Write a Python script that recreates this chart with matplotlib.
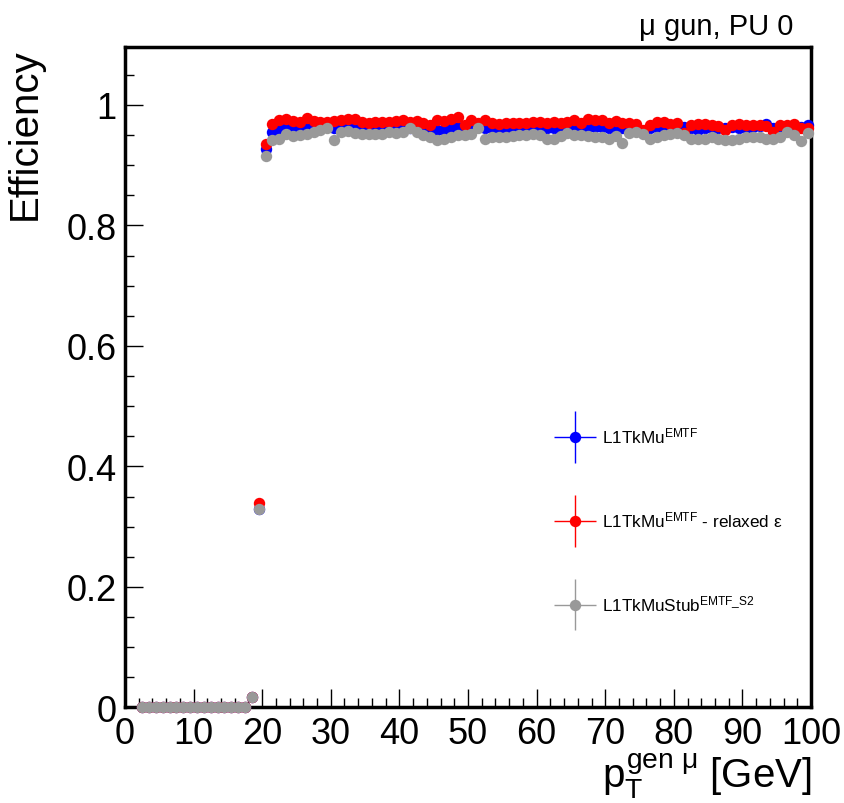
import numpy as np
import matplotlib
matplotlib.use("Agg")
import matplotlib.pyplot as plt
from matplotlib.container import ErrorbarContainer
from matplotlib.legend_handler import HandlerErrorbar
from matplotlib.ticker import MultipleLocator

plt.rcParams["font.family"] = ["Liberation Sans", "DejaVu Sans"]
plt.rcParams["mathtext.fontset"] = "custom"
plt.rcParams["mathtext.rm"] = "Liberation Sans"
plt.rcParams["mathtext.it"] = "Liberation Sans"
plt.rcParams["mathtext.bf"] = "Liberation Sans:bold"

# 1 GeV bins, centres from 2.5 to 99.5 GeV
pt_bins = np.arange(2.5, 100.0, 1.0)

low_bins = [0.0] * 16           # 2.5 .. 17.5 GeV
turn_on_blue = [0.017, 0.330, 0.927]   # 18.5, 19.5, 20.5
turn_on_red = [0.018, 0.340, 0.935]
turn_on_gray = [0.017, 0.330, 0.915]

plateau_red = [
    0.969, 0.975, 0.977, 0.973, 0.972, 0.978, 0.973, 0.972, 0.971, 0.973,
    0.975, 0.976, 0.977, 0.972, 0.970, 0.972, 0.972, 0.971, 0.973,
    0.975, 0.972, 0.973, 0.970, 0.966, 0.975, 0.973, 0.976, 0.980, 0.966,
    0.975, 0.970, 0.975, 0.970, 0.969, 0.970, 0.970, 0.970, 0.970, 0.971,
    0.972, 0.970, 0.972, 0.970, 0.972, 0.975, 0.970, 0.976, 0.975, 0.975,
    0.970, 0.973, 0.970, 0.970, 0.969, 0.959, 0.966, 0.972, 0.972, 0.969, 0.970,
    0.954, 0.966, 0.969, 0.968, 0.966, 0.965, 0.959, 0.966, 0.968, 0.966,
    0.966, 0.966, 0.965, 0.955, 0.966, 0.966, 0.968, 0.962, 0.962,
]
plateau_blue = [
    0.955, 0.961, 0.965, 0.961, 0.959, 0.963, 0.963, 0.963, 0.966, 0.961,
    0.963, 0.963, 0.966, 0.963, 0.963, 0.962, 0.963, 0.962, 0.965,
    0.963, 0.962, 0.962, 0.961, 0.961, 0.958, 0.959, 0.961, 0.963, 0.962,
    0.963, 0.965, 0.962, 0.961, 0.961, 0.962, 0.962, 0.962, 0.963, 0.962,
    0.961, 0.962, 0.962, 0.962, 0.962, 0.963, 0.962, 0.963, 0.963, 0.963,
    0.962, 0.963, 0.962, 0.962, 0.962, 0.955, 0.961, 0.963, 0.963, 0.962, 0.963,
    0.963, 0.961, 0.958, 0.961, 0.962, 0.962, 0.961, 0.963, 0.962, 0.962,
    0.963, 0.965, 0.969, 0.962, 0.963, 0.963, 0.965, 0.963, 0.966,
]
plateau_gray = [
    0.941, 0.944, 0.952, 0.948, 0.950, 0.952, 0.955, 0.958, 0.961, 0.941,
    0.955, 0.957, 0.954, 0.952, 0.952, 0.951, 0.952, 0.955, 0.954,
    0.955, 0.961, 0.955, 0.950, 0.947, 0.941, 0.944, 0.947, 0.950, 0.950,
    0.952, 0.962, 0.944, 0.946, 0.946, 0.947, 0.948, 0.950, 0.950, 0.951,
    0.950, 0.944, 0.944, 0.948, 0.954, 0.950, 0.950, 0.948, 0.947, 0.947,
    0.944, 0.948, 0.936, 0.954, 0.955, 0.952, 0.944, 0.947, 0.950, 0.952, 0.954,
    0.950, 0.944, 0.944, 0.944, 0.946, 0.944, 0.941, 0.941, 0.944, 0.947,
    0.947, 0.947, 0.944, 0.944, 0.947, 0.955, 0.950, 0.940, 0.954,
]

eff_blue = np.array(low_bins + turn_on_blue + plateau_blue)
eff_red = np.array(low_bins + turn_on_red + plateau_red)
eff_gray = np.array(low_bins + turn_on_gray + plateau_gray)

# statistical errors, only visible around the turn-on
err_turn_on = {18.5: 0.004, 19.5: 0.008, 20.5: 0.004}
err = np.array([err_turn_on.get(b, 0.0) for b in pt_bins])

series = [
    (eff_blue, "#0000ff", r"L1TkMu$^{\mathrm{EMTF}}$"),
    (eff_red, "#ff0000", r"L1TkMu$^{\mathrm{EMTF}}$ - relaxed $\varepsilon$"),
    (eff_gray, "#999999", r"L1TkMuStub$^{\mathrm{EMTF\_S2}}$"),
]

fig = plt.figure(figsize=(8.44, 8.04), dpi=100)
ax = fig.add_axes([0.148, 0.1188, 0.813, 0.8215])

for eff, color, label in series:
    markers, caps, bars = ax.errorbar(pt_bins, eff, yerr=err, xerr=0.5,
                                      fmt="o", color=color, ms=8.2, mew=0,
                                      elinewidth=1.0, label=label, zorder=3)
    markers.set_clip_on(False)

ax.axhline(0, color="#000080", lw=1.2, zorder=1)

ax.set_xlim(0, 100)
ax.set_ylim(0, 1.096)
ax.xaxis.set_major_locator(MultipleLocator(10))
ax.xaxis.set_minor_locator(MultipleLocator(2))
ax.yaxis.set_major_locator(MultipleLocator(0.2))
ax.yaxis.set_minor_locator(MultipleLocator(0.05))
ax.set_yticks([0, 0.2, 0.4, 0.6, 0.8, 1.0])
ax.set_yticklabels(["0", "0.2", "0.4", "0.6", "0.8", "1"])
ax.tick_params(which="both", direction="in", top=False, right=False,
               labelsize=26, width=1.0)
ax.tick_params(which="major", length=13)
ax.tick_params(which="minor", length=6.5)
ax.tick_params(axis="x", pad=6)
ax.tick_params(axis="y", pad=6)
for spine in ax.spines.values():
    spine.set_linewidth(2.5)
    spine.set_zorder(2)

ax.set_ylabel("Efficiency", fontsize=29, loc="top", labelpad=16)
ax.set_xlabel(r"$p_{T}^{gen\ \mu}$ [GeV]", fontsize=29, loc="right",
              labelpad=0)

fig.text(0.94, 0.956, "\u03bc gun, PU 0", fontsize=21, ha="right",
         va="baseline")

ax.legend(loc="center left", bbox_to_anchor=(0.625, 0.284), frameon=False,
          fontsize=12.3, borderpad=0, borderaxespad=0, labelspacing=3.75,
          handlelength=2.45, handletextpad=0.4,
          handler_map={ErrorbarContainer: HandlerErrorbar(xerr_size=1.22,
                                                          yerr_size=1.5)})

fig.savefig("out.png", dpi=100)
